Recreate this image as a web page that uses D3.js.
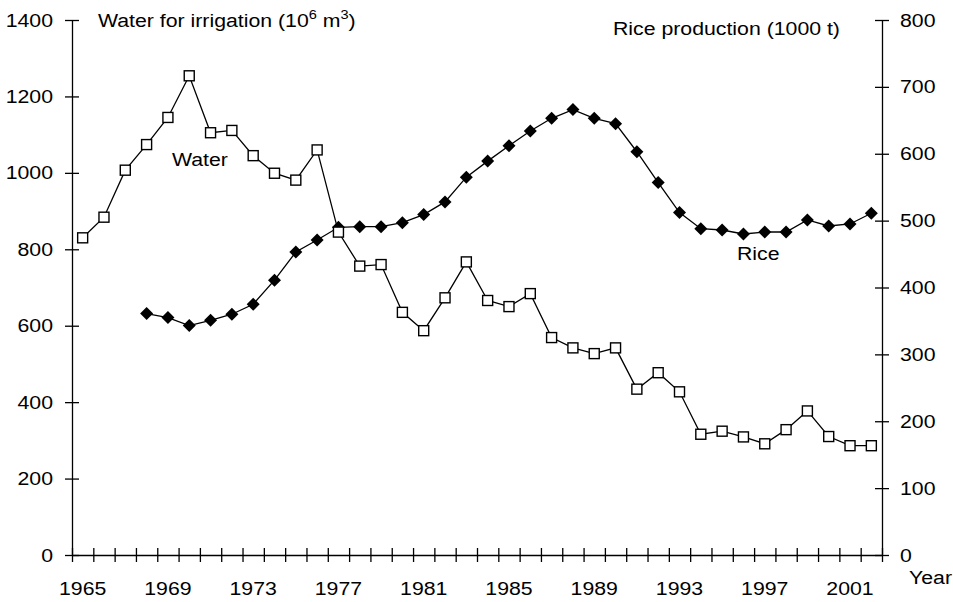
<!DOCTYPE html>
<html>
<head>
<meta charset="utf-8">
<script src="https://cdn.jsdelivr.net/npm/d3@7"></script>
<style>
  body { margin: 0; background: #fff; }
  svg text { font-family: "Liberation Sans", Arial, sans-serif; fill: #000; }
</style>
</head>
<body>
<svg id="chart" width="953" height="602"></svg>
<script>
// data
const years = [1965, 1966, 1967, 1968, 1969, 1970, 1971, 1972, 1973, 1974,
  1975, 1976, 1977, 1978, 1979, 1980, 1981, 1982, 1983, 1984,
  1985, 1986, 1987, 1988, 1989, 1990, 1991, 1992, 1993, 1994,
  1995, 1996, 1997, 1998, 1999, 2000, 2001, 2002];
const water = [830, 884, 1007, 1074, 1145, 1254, 1105, 1111, 1045, 999,
  981, 1060, 845, 756, 760, 635, 587, 673, 767, 666,
  650, 684, 569, 542, 527, 542, 434, 477, 427, 316,
  324, 309, 291, 328, 377, 310, 286, 286];
const rice = [null, null, null, 361, 355, 343, 351, 360, 375, 411,
  453, 471, 490, 491, 491, 497, 509, 528, 565, 589,
  612, 634, 653, 666, 653, 645, 603, 557, 512, 488,
  486, 480, 483, 483, 501, 492, 495, 511];
const leftTicks = [0, 200, 400, 600, 800, 1000, 1200, 1400];
const rightTicks = [0, 100, 200, 300, 400, 500, 600, 700, 800];
const yearLabels = [1965, 1969, 1973, 1977, 1981, 1985, 1989, 1993, 1997, 2001];

const svg = d3.select('#chart');
const margin = { left: 72, right: 882, top: 20, bottom: 555 };
const fs = 19;
const stretch = 1.12; // the original text is a little wider than Liberation Sans

const x = d3.scaleBand().domain(years).range([margin.left, margin.right]).padding(0);
const xEdge = d3.scaleLinear()
  .domain([years[0], years[years.length - 1] + 1])
  .range([margin.left, margin.right]);
const yL = d3.scaleLinear().domain([0, 1400]).range([margin.bottom, margin.top]);
const yR = d3.scaleLinear().domain([0, 800]).range([margin.bottom, margin.top]);

// widen axis labels in place
const widen = (sel) => sel.each(function () {
  const t = d3.select(this);
  const tx = +t.attr('x') || 0;
  t.attr('x', tx / stretch).attr('transform', `scale(${stretch},1)`).attr('font-size', fs);
});

// x axis: ticks on category edges, crossing the line
const gx = svg.append('g')
  .attr('transform', `translate(0,${margin.bottom})`)
  .call(d3.axisBottom(xEdge)
    .tickValues(d3.range(years[0], years[years.length - 1] + 2))
    .tickFormat('')
    .tickSizeOuter(0));
gx.selectAll('.tick line').attr('y1', -7).attr('y2', 7).attr('stroke', '#000').attr('stroke-width', 1.3);
gx.select('.domain').attr('stroke', '#000').attr('stroke-width', 1.3);

// year labels centred in categories
const gxl = svg.append('g')
  .attr('transform', `translate(0,${margin.bottom})`)
  .call(d3.axisBottom(x).tickValues(yearLabels).tickSize(0).tickPadding(27));
gxl.select('.domain').remove();
gxl.attr('font-family', null).selectAll('text').call(widen);

// left axis
const gl = svg.append('g')
  .attr('transform', `translate(${margin.left},0)`)
  .call(d3.axisLeft(yL).tickValues(leftTicks).tickFormat(d3.format('d'))
    .tickSize(7).tickPadding(12).tickSizeOuter(0));
gl.selectAll('.tick line').attr('x1', -7).attr('x2', 7).attr('stroke', '#000').attr('stroke-width', 1.3);
gl.select('.domain').attr('stroke', '#000').attr('stroke-width', 1.3);
gl.attr('font-family', null).selectAll('text').call(widen);

// right axis
const gr = svg.append('g')
  .attr('transform', `translate(${margin.right},0)`)
  .call(d3.axisRight(yR).tickValues(rightTicks).tickFormat(d3.format('d'))
    .tickSize(7).tickPadding(11).tickSizeOuter(0));
gr.selectAll('.tick line').attr('x1', -7).attr('x2', 7).attr('stroke', '#000').attr('stroke-width', 1.3);
gr.select('.domain').attr('stroke', '#000').attr('stroke-width', 1.3);
gr.attr('font-family', null).selectAll('text').call(widen);

const cx = (d) => x(d.year) + x.bandwidth() / 2;

// rice series (filled diamonds)
const riceData = years.map((year, i) => ({ year, v: rice[i] })).filter((d) => d.v !== null);
svg.append('path')
  .datum(riceData)
  .attr('fill', 'none')
  .attr('stroke', '#000')
  .attr('stroke-width', 1.3)
  .attr('d', d3.line().x(cx).y((d) => yR(d.v)));
svg.selectAll('.rice')
  .data(riceData)
  .enter()
  .append('path')
  .attr('class', 'rice')
  .attr('transform', (d) => `translate(${cx(d)},${yR(d.v)})`)
  .attr('d', 'M0,-6.5L6.5,0L0,6.5L-6.5,0Z')
  .attr('fill', '#000');

// water series (open squares)
const waterData = years.map((year, i) => ({ year, v: water[i] }));
svg.append('path')
  .datum(waterData)
  .attr('fill', 'none')
  .attr('stroke', '#000')
  .attr('stroke-width', 1.3)
  .attr('d', d3.line().x(cx).y((d) => yL(d.v)));
svg.selectAll('.water')
  .data(waterData)
  .enter()
  .append('rect')
  .attr('class', 'water')
  .attr('x', (d) => cx(d) - 5)
  .attr('y', (d) => yL(d.v) - 5)
  .attr('width', 10)
  .attr('height', 10)
  .attr('fill', '#fff')
  .attr('stroke', '#000')
  .attr('stroke-width', 1.4);

// titles and labels
const label = (px, py) => svg.append('text')
  .attr('transform', `translate(${px},${py}) scale(${stretch},1)`)
  .attr('font-size', fs);

const t1 = label(98, 27);
t1.append('tspan').text('Water for irrigation (10');
t1.append('tspan').attr('font-size', 13).attr('dy', -8).text('6');
t1.append('tspan').attr('dy', 8).text(' m');
t1.append('tspan').attr('font-size', 13).attr('dy', -8).text('3');
t1.append('tspan').attr('dy', 8).text(')');

label(613, 35).text('Rice production (1000 t)');
label(172, 166).text('Water');
label(737, 260).text('Rice');
label(909, 584).text('Year');
</script>
</body>
</html>
